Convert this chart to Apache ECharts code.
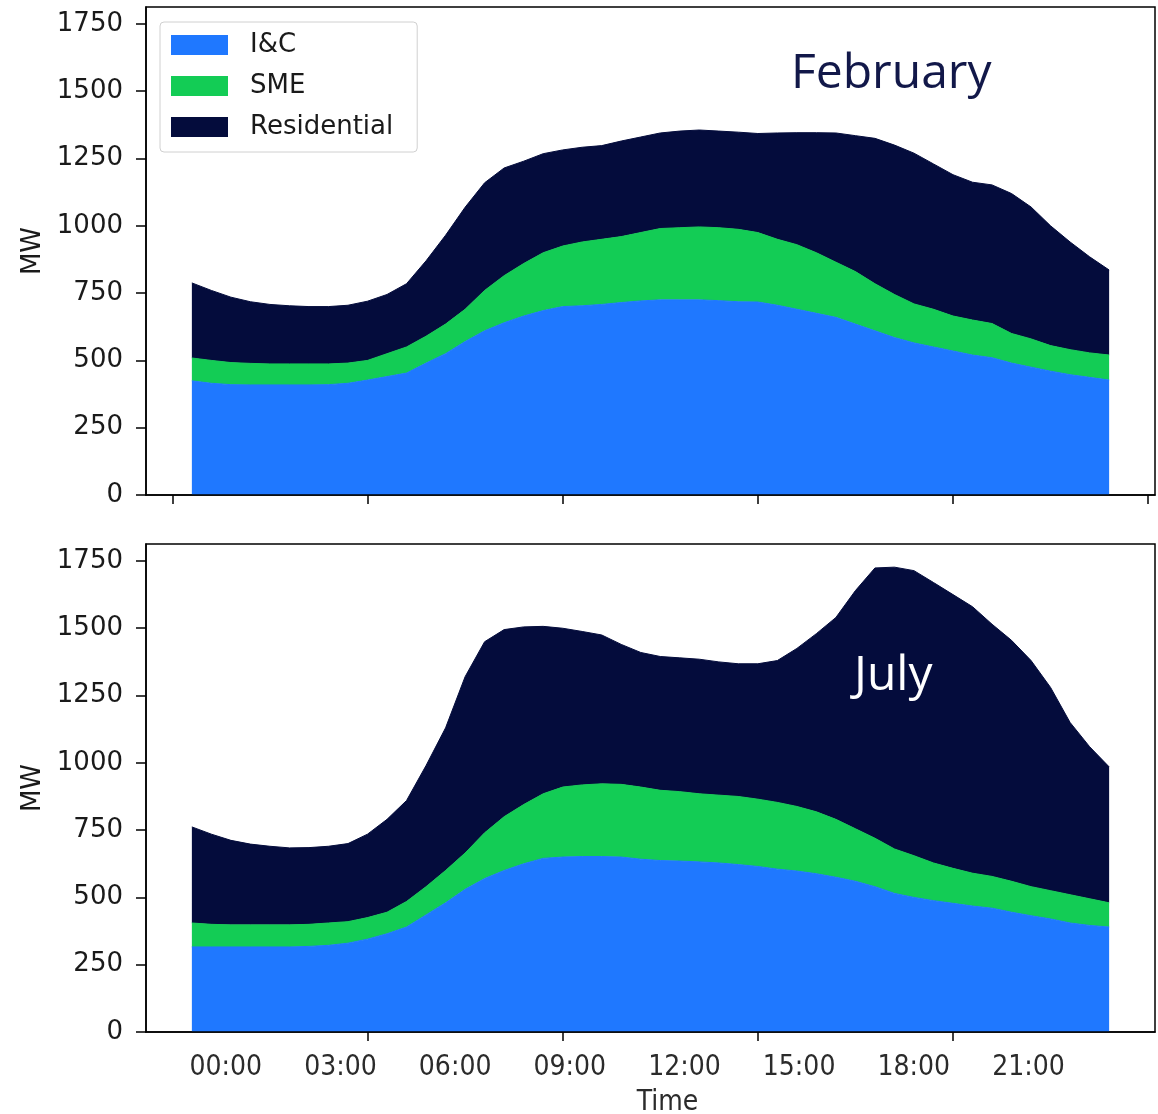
<!DOCTYPE html>
<html><head><meta charset="utf-8">
<script src="https://cdn.jsdelivr.net/npm/echarts@6.0.0/dist/echarts.min.js"></script>
<style>html,body{margin:0;padding:0;background:#fff}#chart{width:1158px;height:1114px}</style>
</head><body><div id="chart"></div>
<script>
// ---- data ----
const seriesNames = ['I&C', 'SME', 'Residential'];
const panelTitles = ['February', 'July'];
const timeLabels = ['00:00', '03:00', '06:00', '09:00', '12:00', '15:00', '18:00', '21:00'];
const yTicks = [0, 250, 500, 750, 1000, 1250, 1500, 1750];
const xTicks = [0, 10, 20, 30, 40, 50];

const febIC = [424,415,410,409,409,409,409,410,415,427,440,453,490,525,570,610,640,665,685,700,703,708,715,721,725,725,725,722,718,717,705,690,675,660,635,610,585,565,550,535,520,510,490,475,460,447,437,427];
const febSME = [85,85,82,80,78,78,78,77,75,73,85,97,100,110,120,150,175,195,215,225,237,242,245,254,265,268,271,271,269,258,245,240,225,205,195,175,160,145,140,130,130,127,110,105,95,93,91,93];
const febRes = [279,260,243,229,221,216,213,213,215,220,220,235,280,330,379,400,400,380,368,357,352,348,355,355,355,359,360,359,361,368,395,416,446,480,505,540,555,560,540,525,512,515,520,490,445,400,357,316];

const julIC = [316,316,316,316,316,316,318,322,330,345,365,390,435,480,530,570,600,625,645,650,652,652,650,642,637,635,632,628,622,615,605,598,588,575,560,540,515,500,488,478,468,460,445,432,420,405,396,390];
const julSME = [89,84,82,82,82,82,82,83,80,80,80,95,105,120,135,170,200,220,240,260,266,270,270,268,261,258,253,252,253,250,248,240,230,215,195,180,165,155,140,130,122,118,115,108,105,105,99,90];
const julRes = [357,335,314,300,292,286,285,285,290,310,345,375,450,530,655,710,695,660,622,590,570,553,520,500,497,497,500,495,493,503,527,587,662,750,885,1004,1047,1059,1042,1017,990,937,895,840,755,640,565,505];

// ---- layout / style ----
const colors = ['#1f78ff', '#13cc55', '#040c3c'];
const labelStart = 2.74, labelStep = 5.875;
const labelPositions = timeLabels.map((_, i) => labelStart + i * labelStep);
const tickFont = 'DejaVu Sans';
const timeFont = '"Liberation Sans Narrow", "DejaVu Sans Condensed", "DejaVu Sans"';

// value first (stacked dimension), period number second
function pts(vals) { return vals.map((v, k) => [v, k + 1]); }

const panels = [[febIC, febSME, febRes], [julIC, julSME, julRes]];
const series = [];
panels.forEach((p, g) => {
  p.forEach((vals, s) => {
    series.push({
      name: seriesNames[s], type: 'line', xAxisIndex: g, yAxisIndex: g,
      stack: 'p' + g, data: pts(vals), encode: { x: 1, y: 0 },
      showSymbol: false, symbol: 'none',
      lineStyle: { width: 1, color: colors[s] },
      areaStyle: { color: colors[s], opacity: 1 },
      itemStyle: { color: colors[s] },
      emphasis: { disabled: true }
    });
  });
});

function xAxis(g) {
  const bottom = g === 1;
  return {
    type: 'value', gridIndex: g, min: -1.35, max: 50.35, z: 10,
    axisLine: { show: true, onZero: false, lineStyle: { color: '#000', width: 1.5 } },
    axisTick: { show: true, length: 9, customValues: bottom ? xTicks.slice(1, 5) : xTicks, lineStyle: { color: '#000', width: 1.5 } },
    axisLabel: bottom ? {
      show: true, customValues: labelPositions, margin: 22,
      formatter: v => timeLabels[Math.round((v - labelStart) / labelStep)],
      fontFamily: timeFont, fontSize: 28, color: '#2b2b2b'
    } : { show: false },
    splitLine: { show: false },
    name: bottom ? 'Time' : '', nameLocation: 'middle', nameGap: 57,
    nameTextStyle: { fontFamily: timeFont, fontSize: 28, color: '#2b2b2b', padding: [0, 0, 0, 34] }
  };
}
function yAxis(g) {
  return {
    type: 'value', gridIndex: g, min: 0, max: 1813, z: 10,
    axisLine: { show: true, onZero: false, lineStyle: { color: '#000', width: 1.5 } },
    axisTick: { show: true, length: 10, customValues: yTicks, lineStyle: { color: '#000', width: 1.5 } },
    axisLabel: { customValues: yTicks, margin: 23, formatter: v => String(v), fontFamily: tickFont, fontSize: 26, color: '#1a1a1a' },
    splitLine: { show: false },
    name: 'MW', nameLocation: 'middle', nameGap: 96,
    nameTextStyle: { fontFamily: tickFont, fontSize: 26, color: '#1a1a1a' }
  };
}

const chart = echarts.init(document.getElementById('chart'), null, { renderer: 'canvas' });
chart.setOption({
  animation: false,
  backgroundColor: '#ffffff',
  grid: [
    { left: 146, right: 3, top: 7, height: 488, outerBoundsMode: 'none', containLabel: false, show: true, borderColor: '#000', borderWidth: 1.5, backgroundColor: 'transparent' },
    { left: 146, right: 3, top: 544, height: 488, outerBoundsMode: 'none', containLabel: false, show: true, borderColor: '#000', borderWidth: 1.5, backgroundColor: 'transparent' }
  ],
  xAxis: [xAxis(0), xAxis(1)],
  yAxis: [yAxis(0), yAxis(1)],
  legend: {
    data: seriesNames, orient: 'vertical', left: 160, top: 22,
    icon: 'rect', itemWidth: 57, itemHeight: 20, itemGap: 15,
    padding: [10, 24, 12, 11],
    backgroundColor: 'rgba(255,255,255,0.85)', borderColor: '#d0d0d0', borderWidth: 1, borderRadius: 4,
    textStyle: { fontFamily: tickFont, fontSize: 26, lineHeight: 26, color: '#1a1a1a', padding: [0, 0, 0, 17] },
    selectedMode: false
  },
  graphic: [
    { type: 'text', left: 791, top: 50, z: 100, style: { text: panelTitles[0], font: '400 48px "Open Sans", Lato, sans-serif', fill: '#121849' } },
    { type: 'text', left: 854, top: 652, z: 100, style: { text: panelTitles[1], font: '400 48px "Open Sans", Lato, sans-serif', fill: '#ffffff' } }
  ],
  series: series
});
</script>
</body></html>
